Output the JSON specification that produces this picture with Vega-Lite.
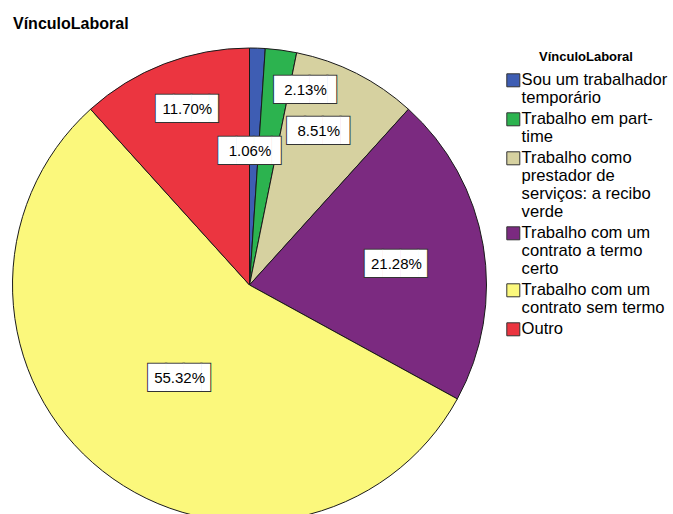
{
  "$schema": "https://vega.github.io/schema/vega-lite/v6.json",
  "width": 499,
  "height": 458,
  "autosize": {"type": "none"},
  "padding": {"left": 0, "top": 56, "right": 174, "bottom": 0},
  "background": "white",
  "title": {
    "text": "VínculoLaboral",
    "anchor": "start",
    "frame": "group",
    "dx": 13,
    "offset": 1,
    "baseline": "alphabetic",
    "font": "Liberation Sans",
    "fontSize": 16,
    "fontWeight": "bold",
    "color": "#000000"
  },
  "config": {"view": {"stroke": null}},
  "data": {
    "values": [
      {"VínculoLaboral": "Sou um trabalhador temporário", "percent": 1.06, "ordem": 1, "rotulo": "1.06%"},
      {"VínculoLaboral": "Trabalho em part-time", "percent": 2.13, "ordem": 2, "rotulo": "2.13%"},
      {"VínculoLaboral": "Trabalho como prestador de serviços: a recibo verde", "percent": 8.51, "ordem": 3, "rotulo": "8.51%"},
      {"VínculoLaboral": "Trabalho com um contrato a termo certo", "percent": 21.28, "ordem": 4, "rotulo": "21.28%"},
      {"VínculoLaboral": "Trabalho com um contrato sem termo", "percent": 55.32, "ordem": 5, "rotulo": "55.32%"},
      {"VínculoLaboral": "Outro", "percent": 11.70, "ordem": 6, "rotulo": "11.70%"}
    ]
  },
  "encoding": {
    "theta": {"field": "percent", "type": "quantitative", "stack": true},
    "order": {"field": "ordem", "type": "quantitative"}
  },
  "layer": [
    {
      "mark": {"type": "arc", "outerRadius": 237, "stroke": "#1a1a1a", "strokeWidth": 1},
      "encoding": {
        "color": {
          "field": "VínculoLaboral",
          "type": "nominal",
          "scale": {
            "domain": [
              "Sou um trabalhador temporário",
              "Trabalho em part-time",
              "Trabalho como prestador de serviços: a recibo verde",
              "Trabalho com um contrato a termo certo",
              "Trabalho com um contrato sem termo",
              "Outro"
            ],
            "range": ["#3E5DB3", "#2CB34F", "#D6D1A0", "#7B2A80", "#FBF87C", "#EB3540"]
          },
          "legend": {
            "orient": "none",
            "legendX": 505,
            "legendY": -5,
            "title": "VínculoLaboral",
            "titleFont": "Liberation Sans",
            "titleFontSize": 13,
            "titleFontWeight": "bold",
            "titleColor": "#000000",
            "titleAnchor": "middle",
            "titlePadding": 8,
            "labelFont": "Liberation Sans",
            "labelFontSize": 16.6,
            "labelColor": "#000000",
            "labelLimit": 300,
            "labelOffset": 0,
            "symbolType": "square",
            "symbolSize": 169,
            "symbolStrokeColor": "#333333",
            "symbolStrokeWidth": 1,
            "symbolOpacity": 1,
            "rowPadding": 3,
            "labelExpr": "datum.label == 'Sou um trabalhador temporário' ? ['Sou um trabalhador','temporário'] : datum.label == 'Trabalho em part-time' ? ['Trabalho em part-','time'] : datum.label == 'Trabalho como prestador de serviços: a recibo verde' ? ['Trabalho como','prestador de','serviços: a recibo','verde'] : datum.label == 'Trabalho com um contrato a termo certo' ? ['Trabalho com um','contrato a termo','certo'] : datum.label == 'Trabalho com um contrato sem termo' ? ['\u00a0Trabalho com um','contrato sem termo'] : datum.label",
            "encode": {"labels": {"update": {"lineHeight": {"value": 17.8}}}}
          }
        }
      }
    },
    {
      "mark": {
        "type": "text",
        "text": "███▌",
        "font": "DejaVu Sans",
        "fontSize": 23,
        "fill": "#333333",
        "stroke": "#333333",
        "strokeWidth": 2,
        "radius": {"expr": "[134,203,169,149,116,187][datum.ordem-1]"},
        "dx": {"expr": "[0,33,-3,4,6,9][datum.ordem-1]"},
        "dy": {"expr": "[0,6,-3,4,2,-1][datum.ordem-1]"}
      }
    },
    {
      "mark": {
        "type": "text",
        "text": "███▌",
        "font": "DejaVu Sans",
        "fontSize": 23,
        "fill": "#ffffff",
        "radius": {"expr": "[134,203,169,149,116,187][datum.ordem-1]"},
        "dx": {"expr": "[0,33,-3,4,6,9][datum.ordem-1]"},
        "dy": {"expr": "[0,6,-3,4,2,-1][datum.ordem-1]"}
      }
    },
    {
      "mark": {
        "type": "text",
        "font": "Liberation Sans",
        "fontSize": 15,
        "fill": "#000000",
        "radius": {"expr": "[134,203,169,149,116,187][datum.ordem-1]"},
        "dx": {"expr": "[-4,29,-7,0,2,5][datum.ordem-1]"},
        "dy": {"expr": "[0,6,-3,4,2,-1][datum.ordem-1]"}
      },
      "encoding": {"text": {"field": "rotulo", "type": "nominal"}}
    }
  ]
}
